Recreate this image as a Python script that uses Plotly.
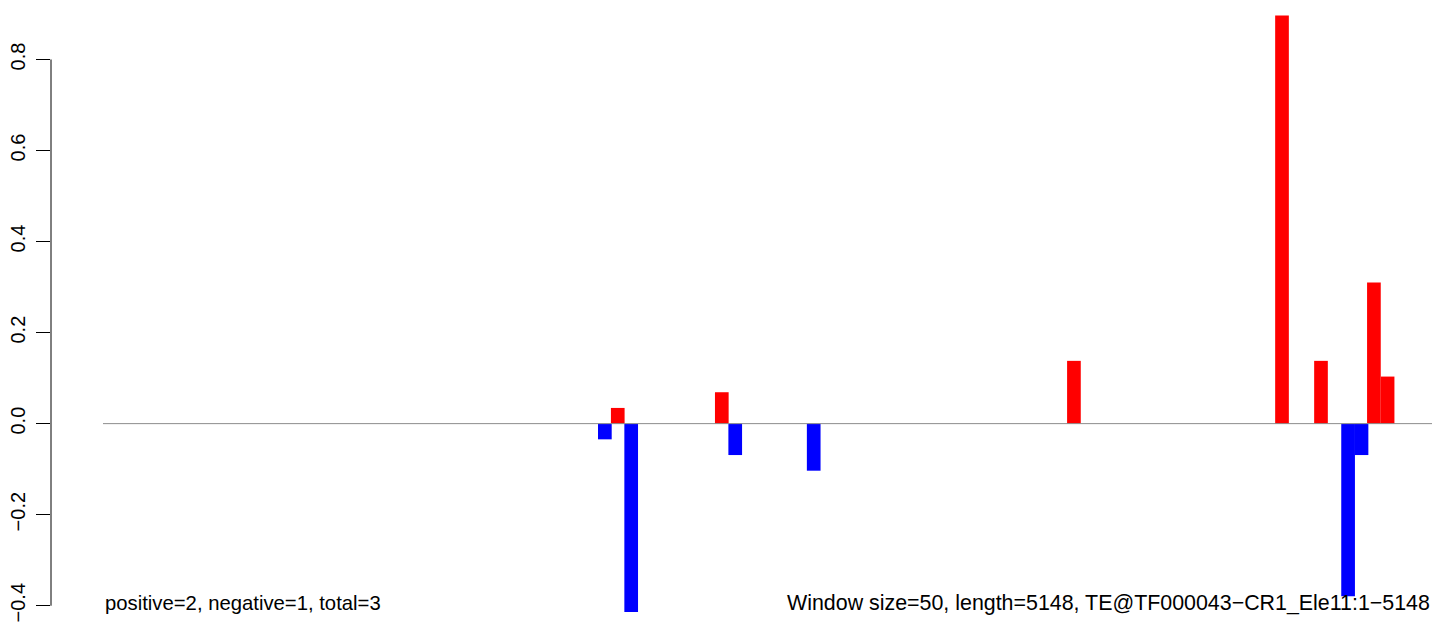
import plotly.graph_objects as go

# window positions (bp, centre of window) and scores
pos_x = [1994, 2397, 3761, 4567, 4718, 4923, 4976]
pos_y = [0.0345, 0.069, 0.1379, 0.8966, 0.1379, 0.3103, 0.1034]
neg_x = [1944, 2046, 2449, 2753, 4823, 4875]
neg_y = [-0.0345, -0.4138, -0.069, -0.1034, -0.3793, -0.069]

seq_len = 5148
bar_w = 53
y_ticks = [-0.4, -0.2, 0.0, 0.2, 0.4, 0.6, 0.8]
left_note = "positive=2, negative=1, total=3"
right_note = "Window size=50, length=5148, TE@TF000043\u2212CR1_Ele11:1\u22125148"

base = dict(family="Liberation Sans, Arial, sans-serif", color="black")

fig = go.Figure()
fig.add_trace(go.Scatter(
    x=[0, seq_len], y=[0, 0], mode="lines",
    line=dict(color="#8c8c8c", width=1), hoverinfo="skip",
))
fig.add_trace(go.Bar(x=pos_x, y=pos_y, width=bar_w, marker=dict(color="#ff0000", line=dict(width=0))))
fig.add_trace(go.Bar(x=neg_x, y=neg_y, width=bar_w, marker=dict(color="#0000ff", line=dict(width=0))))

# page body has an 8px margin, so the figure is 8px smaller and the margins shifted
fig.update_layout(
    width=1436, height=626,
    margin=dict(l=43, r=0, t=7, b=22),
    paper_bgcolor="white", plot_bgcolor="white",
    showlegend=False, barmode="overlay", font=dict(base, size=20),
    xaxis=dict(visible=False, range=[-201.4, 5194.5]),
    yaxis=dict(
        range=[-0.4138, 0.8977],
        automargin=False,
        tickvals=y_ticks,
        ticktext=[f"{v:.1f}".replace("-", "\u2212") for v in y_ticks],
        tickangle=-90,
        ticks="outside", ticklen=14, tickwidth=1, tickcolor="black",
        ticklabelstandoff=3,
        showgrid=False, zeroline=False, showline=False,
        tickfont=dict(base, size=20),
    ),
    shapes=[dict(type="line", xref="paper", yref="y", x0=0, x1=0,
                 y0=min(y_ticks), y1=max(y_ticks),
                 line=dict(color="black", width=1))],
    annotations=[
        dict(x=0, y=-0.394, xref="x", yref="y", text=left_note,
             showarrow=False, xanchor="left", yanchor="middle",
             font=dict(base, size=20.3)),
        dict(x=seq_len, y=-0.394, xref="x", yref="y", text=right_note,
             showarrow=False, xanchor="right", yanchor="middle",
             font=dict(base, size=21.4)),
    ],
)

fig.write_html("out.html")
